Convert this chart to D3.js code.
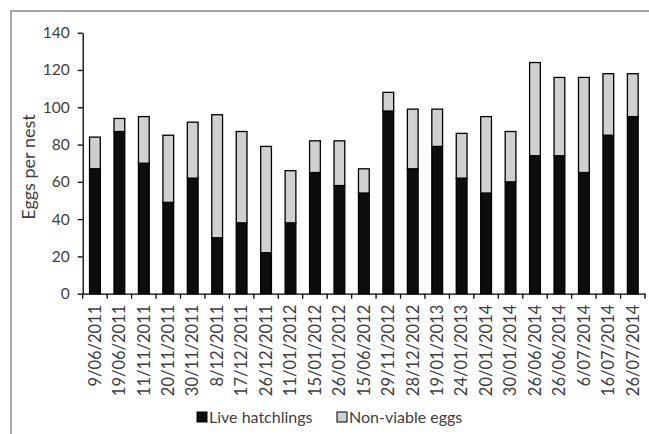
<!DOCTYPE html>
<html><head><meta charset="utf-8">
<script src="https://cdn.jsdelivr.net/npm/d3@7"></script>
<style>body{margin:0;background:#fff}svg{display:block}text{font-family:Lato,"Open Sans",sans-serif;fill:#404040}</style>
</head><body><svg id="c" width="649" height="434"></svg>
<script>
const categories = ["9/06/2011","19/06/2011","11/11/2011","20/11/2011","30/11/2011","8/12/2011","17/12/2011","26/12/2011","11/01/2012","15/01/2012","26/01/2012","15/06/2012","29/11/2012","28/12/2012","19/01/2013","24/01/2013","20/01/2014","30/01/2014","26/06/2014","26/06/2014","6/07/2014","16/07/2014","26/07/2014"];
const liveHatchlings = [67,87,70,49,62,30,38,22,38,65,58,54,98,67,79,62,54,60,74,74,65,85,95];
const nonViableEggs = [17,7,25,36,30,66,49,57,28,17,24,13,10,32,20,24,41,27,50,42,51,33,23];
const yTicks = [0,20,40,60,80,100,120,140];
const seriesNames = ["Live hatchlings","Non-viable eggs"];

const svg = d3.select("#c");
svg.append("rect").attr("x",11).attr("y",11).attr("width",700).attr("height",500)
  .attr("fill","none").attr("stroke","#8a8a8a").attr("stroke-width",1.5);

const pLeft=82.7, pRight=645, pTop=32.7, pBottom=293.7;
const x = d3.scaleBand().domain(d3.range(categories.length)).range([pLeft,pRight]).paddingInner(0.56).paddingOuter(0.28);
const y = d3.scaleLinear().domain([0,140]).range([pBottom,pTop]);

const data = categories.map((c,i)=>({i, live:liveHatchlings[i], non:nonViableEggs[i]}));
const stack = d3.stack().keys(["live","non"])(data);
const colors = ["#0d0d0d","#d0d0d0"];
stack.forEach((s,k)=>{
  svg.append("g").selectAll("rect").data(s).join("rect")
    .attr("x",d=>x(d.data.i)).attr("width",x.bandwidth())
    .attr("y",d=>y(d[1])).attr("height",d=>y(d[0])-y(d[1]))
    .attr("fill",colors[k]).attr("stroke","#000").attr("stroke-width",1.3);
});

// y axis
const ya = svg.append("g").attr("transform",`translate(${pLeft},0)`)
  .call(d3.axisLeft(y).tickValues(yTicks).tickSize(5).tickSizeOuter(0).tickPadding(8));
ya.select(".domain").attr("stroke","#000").attr("stroke-width",1.3);
ya.selectAll(".tick line").attr("stroke","#000").attr("stroke-width",1.3);
ya.selectAll("text").attr("font-size",15.5).style("font-family","Lato,sans-serif").attr("fill","#404040");

// x axis
const xOuter = d3.scaleBand().domain(d3.range(categories.length)).range([pLeft,pRight]);
const xa = svg.append("g").attr("transform",`translate(0,${pBottom})`)
  .call(d3.axisBottom(xOuter).tickSize(0).tickFormat(i=>categories[i]));
xa.select(".domain").attr("stroke","#000").attr("stroke-width",1.3);
xa.selectAll(".tick text").attr("font-size",16.5).style("font-family","Lato,sans-serif").attr("fill","#404040")
  .attr("transform","rotate(-90)").attr("text-anchor","end").attr("x",-11).attr("y",0).attr("dy","0.35em");
// category boundary ticks
svg.append("g").selectAll("line").data(d3.range(categories.length+1)).join("line")
  .attr("x1",i=>pLeft+i*xOuter.step()).attr("x2",i=>pLeft+i*xOuter.step())
  .attr("y1",pBottom).attr("y2",pBottom+5).attr("stroke","#000").attr("stroke-width",1.3);

// y title
svg.append("text").attr("transform","translate(35,167) rotate(-90)").attr("text-anchor","middle")
  .attr("font-size",18).text("Eggs per nest");

// legend
const lg = svg.append("g");
const legendX = [197,337];
seriesNames.forEach((n,k)=>{
  lg.append("rect").attr("x",legendX[k]).attr("y",412).attr("width",10).attr("height",10)
    .attr("fill",colors[k]).attr("stroke","#000").attr("stroke-width",1);
  lg.append("text").attr("x",legendX[k]+12).attr("y",423).attr("font-size",16).text(n);
});
</script></body></html>
